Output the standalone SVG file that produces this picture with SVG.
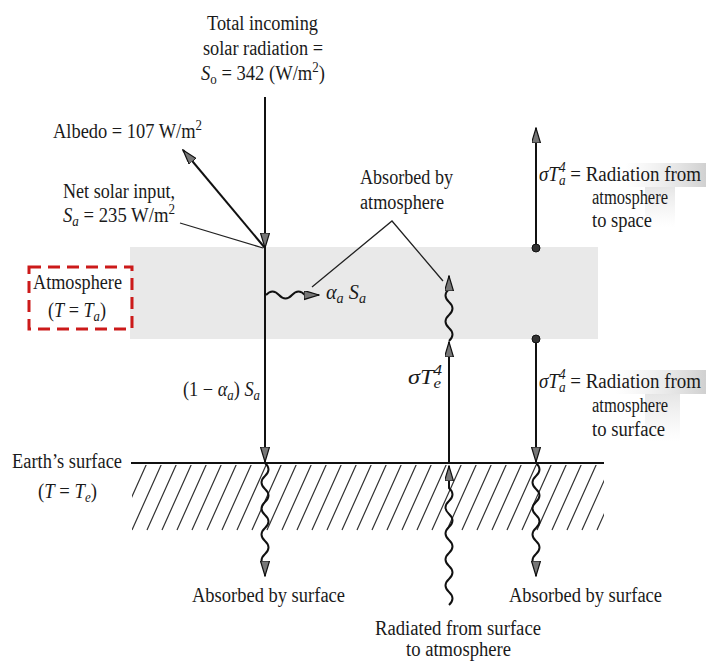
<svg xmlns="http://www.w3.org/2000/svg" width="706" height="662" viewBox="0 0 706 662">
<style>
text{font-family:"Liberation Serif","Times New Roman",serif;font-size:20px;fill:#1a1a1a}
.it{font-style:italic}
.sm{font-size:14px}
.ln{fill:none;stroke:#111;stroke-width:2}
.thin{fill:none;stroke:#222;stroke-width:1.3}
.wave{fill:none;stroke:#111;stroke-width:2}
</style>
<defs>
<marker id="ah" markerWidth="16" markerHeight="10" refX="15" refY="4.5" orient="auto" markerUnits="userSpaceOnUse">
<path d="M0,0 L15,4.5 L0,9 z" fill="#777" stroke="#111" stroke-width="1.2"/>
</marker>
<clipPath id="hc"><rect x="132" y="465" width="472" height="66"/></clipPath>
<linearGradient id="gp" x1="0" x2="1" y1="0" y2="0">
<stop offset="0" stop-color="#ccc" stop-opacity="0"/>
<stop offset="1" stop-color="#aaa" stop-opacity="0.55"/>
</linearGradient>
<linearGradient id="gv" x1="0" x2="0" y1="0" y2="1">
<stop offset="0" stop-color="#ccc" stop-opacity="0.5"/>
<stop offset="1" stop-color="#ddd" stop-opacity="0"/>
</linearGradient>
</defs>
<rect width="706" height="662" fill="#fff"/>

<g id="atmosphere-band">
<rect x="130" y="247" width="468" height="92" fill="#e9e9e9"/>
</g>
<g id="scan-shading">
<rect x="625" y="163" width="81" height="24" fill="url(#gp)"/>
<rect x="645" y="187" width="30" height="40" fill="url(#gv)"/>
<rect x="615" y="370" width="91" height="24" fill="url(#gp)"/>
<rect x="645" y="394" width="35" height="48" fill="url(#gv)"/>
</g>

<g id="surface">
<path d="M102 530l30 -67M117 530l30 -67M132 530l30 -67M147 530l30 -67M162 530l30 -67M177 530l30 -67M192 530l30 -67M207 530l30 -67M222 530l30 -67M237 530l30 -67M252 530l30 -67M267 530l30 -67M282 530l30 -67M297 530l30 -67M312 530l30 -67M327 530l30 -67M342 530l30 -67M357 530l30 -67M372 530l30 -67M387 530l30 -67M402 530l30 -67M417 530l30 -67M432 530l30 -67M447 530l30 -67M462 530l30 -67M477 530l30 -67M492 530l30 -67M507 530l30 -67M522 530l30 -67M537 530l30 -67M552 530l30 -67M567 530l30 -67M582 530l30 -67M597 530l30 -67" stroke="#333" stroke-width="1.2" fill="none" clip-path="url(#hc)"/>
<line x1="131" y1="463" x2="604" y2="463" stroke="#111" stroke-width="2.2"/>
</g>

<g id="atmosphere-label">
<rect x="29" y="267" width="103" height="62" fill="none" stroke="#cc1a1a" stroke-width="3" stroke-dasharray="12 7"/>
<text x="33" y="289" textLength="89" lengthAdjust="spacingAndGlyphs">Atmosphere</text>
<text x="48" y="317" textLength="58" lengthAdjust="spacingAndGlyphs">(<tspan class="it">T</tspan> = <tspan class="it">T</tspan><tspan class="it sm" dy="4">a</tspan><tspan dy="-4">)</tspan></text>
</g>

<g id="incoming-label">
<text x="207" y="30" textLength="111" lengthAdjust="spacingAndGlyphs">Total incoming</text>
<text x="203" y="55" textLength="120" lengthAdjust="spacingAndGlyphs">solar radiation =</text>
<text x="201" y="80" textLength="124" lengthAdjust="spacingAndGlyphs"><tspan class="it">S</tspan><tspan class="sm" dy="4">o</tspan><tspan dy="-4"> = 342 (W/m</tspan><tspan class="sm" dy="-8">2</tspan><tspan dy="8">)</tspan></text>
</g>

<g id="albedo-label">
<text x="53" y="138" textLength="149" lengthAdjust="spacingAndGlyphs">Albedo = 107 W/m<tspan class="sm" dy="-8">2</tspan></text>
</g>

<g id="net-solar-label">
<text x="63" y="198" textLength="112" lengthAdjust="spacingAndGlyphs">Net solar input,</text>
<text x="63" y="222" textLength="112" lengthAdjust="spacingAndGlyphs"><tspan class="it">S</tspan><tspan class="it sm" dy="4">a</tspan><tspan dy="-4"> = 235 W/m</tspan><tspan class="sm" dy="-8">2</tspan></text>
</g>

<g id="absorbed-atm-label">
<text x="360" y="184" textLength="93" lengthAdjust="spacingAndGlyphs">Absorbed by</text>
<text x="360" y="209" textLength="84" lengthAdjust="spacingAndGlyphs">atmosphere</text>
</g>

<g id="alpha-label">
<text x="326" y="299" textLength="40" lengthAdjust="spacingAndGlyphs"><tspan class="it">α</tspan><tspan class="it sm" dy="4">a</tspan><tspan class="it" dy="-4"> S</tspan><tspan class="it sm" dy="4">a</tspan></text>
</g>

<g id="transmitted-label">
<text x="183" y="396" textLength="77" lengthAdjust="spacingAndGlyphs">(1 − <tspan class="it">α</tspan><tspan class="it sm" dy="4">a</tspan><tspan dy="-4">) </tspan><tspan class="it">S</tspan><tspan class="it sm" dy="4">a</tspan></text>
</g>

<g id="surface-emission-label">
<text x="408" y="384" textLength="34" lengthAdjust="spacingAndGlyphs"><tspan class="it">σT</tspan><tspan class="it sm" dy="-9">4</tspan><tspan class="it sm" dx="-7" dy="13">e</tspan></text>
</g>

<g id="atm-to-space-label">
<text x="539" y="181" textLength="162" lengthAdjust="spacingAndGlyphs"><tspan class="it">σT</tspan><tspan class="it sm" dy="-9">4</tspan><tspan class="it sm" dx="-7" dy="13">a</tspan><tspan dy="-4"> = Radiation from</tspan></text>
<text x="592" y="204" textLength="76" lengthAdjust="spacingAndGlyphs">atmosphere</text>
<text x="592" y="227" textLength="60" lengthAdjust="spacingAndGlyphs">to space</text>
</g>

<g id="atm-to-surface-label">
<text x="539" y="388" textLength="162" lengthAdjust="spacingAndGlyphs"><tspan class="it">σT</tspan><tspan class="it sm" dy="-9">4</tspan><tspan class="it sm" dx="-7" dy="13">a</tspan><tspan dy="-4"> = Radiation from</tspan></text>
<text x="592" y="412" textLength="76" lengthAdjust="spacingAndGlyphs">atmosphere</text>
<text x="592" y="436" textLength="73" lengthAdjust="spacingAndGlyphs">to surface</text>
</g>

<g id="earth-label">
<text x="12" y="468" textLength="110" lengthAdjust="spacingAndGlyphs">Earth’s surface</text>
<text x="38" y="498" textLength="59" lengthAdjust="spacingAndGlyphs">(<tspan class="it">T</tspan> = <tspan class="it">T</tspan><tspan class="it sm" dy="4">e</tspan><tspan dy="-4">)</tspan></text>
</g>

<g id="absorbed-surface-left">
<text x="192" y="602" textLength="153" lengthAdjust="spacingAndGlyphs">Absorbed by surface</text>
</g>
<g id="absorbed-surface-right">
<text x="509" y="602" textLength="153" lengthAdjust="spacingAndGlyphs">Absorbed by surface</text>
</g>
<g id="radiated-label">
<text x="375" y="635" textLength="166" lengthAdjust="spacingAndGlyphs">Radiated from surface</text>
<text x="406" y="656" textLength="105" lengthAdjust="spacingAndGlyphs">to atmosphere</text>
</g>

<g id="connectors">
<line class="ln" x1="265" y1="97" x2="265" y2="248" marker-end="url(#ah)"/>
<line class="ln" x1="265" y1="248" x2="183" y2="150" stroke-width="2.5" marker-end="url(#ah)"/>
<line class="thin" x1="180" y1="223" x2="263" y2="248"/>
<line class="ln" x1="265" y1="248" x2="265" y2="462" marker-end="url(#ah)"/>
<path class="wave" d="M266 295q6.5 -7 13 0t13 0t13 0l14 0" marker-end="url(#ah)"/>
<polyline class="thin" points="312,287 392,221 443,281"/>
<path class="wave" d="M265 463q7 6.5 0 13t0 13t0 13t0 13t0 13t0 13t0 13t0 13l0 9" marker-end="url(#ah)"/>
<path class="wave" d="M449 605q7 -6.5 0 -13t0 -13t0 -13t0 -13t0 -13t0 -13t0 -13t0 -13t0 -13l0 -22" marker-end="url(#ah)"/>
<line class="ln" x1="449" y1="463" x2="449" y2="342" marker-end="url(#ah)"/>
<path class="wave" d="M449 341q7 -6.5 0 -13t0 -13t0 -13t0 -13l0 -13" marker-end="url(#ah)"/>
<line class="ln" x1="536" y1="248" x2="536" y2="128" marker-end="url(#ah)"/>
<circle cx="536" cy="248" r="4" fill="#333" stroke="#111" stroke-width="1"/>
<line class="ln" x1="536" y1="339" x2="536" y2="462" marker-end="url(#ah)"/>
<circle cx="536" cy="339" r="4" fill="#333" stroke="#111" stroke-width="1"/>
<path class="wave" d="M536 463q7 6.5 0 13t0 13t0 13t0 13t0 13t0 13t0 13t0 13l0 9" marker-end="url(#ah)"/>
</g>
</svg>
